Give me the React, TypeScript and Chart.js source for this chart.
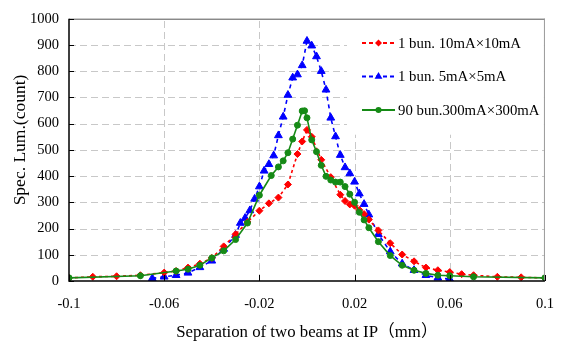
import React, { useEffect, useRef } from 'react';
import { Chart, registerables } from 'chart.js';

Chart.register(...registerables);

// ---- data ----
const redX = [-0.1, -0.09, -0.08, -0.07, -0.06, -0.055, -0.05, -0.045, -0.04, -0.035, -0.03, -0.025, -0.02, -0.016, -0.012, -0.008, -0.004, -0.002, 0, 0.002, 0.006, 0.01, 0.014, 0.016, 0.018, 0.02, 0.022, 0.024, 0.026, 0.03, 0.035, 0.04, 0.045, 0.05, 0.055, 0.06, 0.065, 0.07, 0.08, 0.09, 0.1];
const redY = [12, 16, 18, 22, 32, 38, 51, 66, 88, 132, 178, 225, 268, 296, 318, 368, 484, 532, 576, 550, 462, 396, 329, 305, 292, 287, 271, 255, 234, 193, 144, 101, 75, 51, 41, 34, 26, 22, 16, 14, 12];

const blueX = [-0.065, -0.06, -0.055, -0.05, -0.045, -0.04, -0.035, -0.03, -0.028, -0.026, -0.024, -0.022, -0.02, -0.018, -0.016, -0.014, -0.012, -0.01, -0.008, -0.006, -0.004, -0.002, 0, 0.002, 0.004, 0.006, 0.008, 0.01, 0.012, 0.014, 0.016, 0.018, 0.02, 0.022, 0.024, 0.026, 0.03, 0.035, 0.04, 0.045, 0.05, 0.055, 0.06];
const blueY = [10, 16, 22, 31, 52, 77, 122, 175, 221, 240, 269, 313, 360, 420, 445, 478, 555, 626, 709, 775, 787, 822, 915, 897, 856, 800, 729, 622, 551, 480, 433, 410, 378, 333, 293, 253, 178, 112, 66, 41, 22, 12, 7];

const greenX = [-0.1, -0.07, -0.055, -0.05, -0.045, -0.04, -0.035, -0.03, -0.025, -0.02, -0.015, -0.012, -0.01, -0.008, -0.006, -0.004, -0.002, -0.001, 0, 0.002, 0.004, 0.006, 0.008, 0.01, 0.012, 0.014, 0.016, 0.018, 0.02, 0.022, 0.024, 0.026, 0.03, 0.035, 0.04, 0.045, 0.05, 0.055, 0.06, 0.07, 0.1];
const greenY = [12, 20, 38, 45, 60, 88, 115, 158, 221, 327, 402, 435, 458, 489, 541, 594, 648, 649, 622, 538, 493, 441, 399, 385, 377, 377, 360, 331, 300, 262, 233, 203, 150, 97, 60, 41, 29, 22, 20, 16, 12];

const xTickValues = [-0.1, -0.06, -0.02, 0.02, 0.06, 0.1];
const xMin = -0.1;
const xMax = 0.1;
const yMin = 0;
const yMax = 1000;
const yStep = 100;

const seriesLabels = ['1 bun. 10mA×10mA', '1 bun. 5mA×5mA', '90 bun.300mA×300mA'];
const xTitle = 'Separation of two beams at IP（mm）';
const yTitle = 'Spec. Lum.(count)';

// ---- styles ----
const RED = '#ff0000';
const BLUE = '#0000ff';
const GREEN = '#168a16';
const SERIF = '"Liberation Serif", "Times New Roman", "Noto Sans CJK SC", serif';

const toPoints = (xs: number[], ys: number[]) => xs.map((x, i) => ({ x, y: ys[i] }));

const legendItems = [
  { label: seriesLabels[0], color: RED, dash: [4, 3], marker: 'diamond' },
  { label: seriesLabels[1], color: BLUE, dash: [4, 3], marker: 'triangle' },
  { label: seriesLabels[2], color: GREEN, dash: [], marker: 'circle' },
];

function drawMarker(ctx: CanvasRenderingContext2D, kind: string, x: number, y: number, color: string) {
  ctx.save();
  ctx.setLineDash([]);
  ctx.fillStyle = color;
  ctx.beginPath();
  if (kind === 'diamond') {
    const r = 3.5;
    ctx.moveTo(x, y - r);
    ctx.lineTo(x + r, y);
    ctx.lineTo(x, y + r);
    ctx.lineTo(x - r, y);
    ctx.closePath();
  } else if (kind === 'triangle') {
    const r = 4.5;
    ctx.moveTo(x, y - r);
    ctx.lineTo(x + r * 0.87, y + r * 0.5);
    ctx.lineTo(x - r * 0.87, y + r * 0.5);
    ctx.closePath();
  } else {
    ctx.arc(x, y, 3, 0, Math.PI * 2);
  }
  ctx.fill();
  ctx.restore();
}

const decorPlugin = {
  id: 'decor',
  beforeDatasetsDraw(chart: any) {
    const { ctx, chartArea } = chart;
    const { left, right, top, bottom } = chartArea;
    const xs = chart.scales.x;
    const ys = chart.scales.y;
    ctx.save();
    ctx.strokeStyle = '#c8c8c8';
    ctx.lineWidth = 1;
    ctx.setLineDash([7, 4]);
    ctx.beginPath();
    for (let v = yMin + yStep; v < yMax; v += yStep) {
      const py = Math.round(ys.getPixelForValue(v)) + 0.5;
      ctx.moveTo(left, py);
      ctx.lineTo(right, py);
    }
    xTickValues.slice(1, -1).forEach((v) => {
      const px = Math.round(xs.getPixelForValue(v)) + 0.5;
      ctx.moveTo(px, bottom);
      ctx.lineTo(px, top);
    });
    ctx.stroke();
    ctx.restore();
  },
  afterDraw(chart: any) {
    const { ctx, chartArea } = chart;
    const { left, right, top, bottom } = chartArea;
    const xs = chart.scales.x;
    const ys = chart.scales.y;
    ctx.save();

    // legend box (hides grid lines behind it)
    ctx.fillStyle = '#ffffff';
    ctx.fillRect(347, top + 1, right - 347 - 1, 115);
    legendItems.forEach((it, i) => {
      const y = 43 + i * 33.5;
      ctx.save();
      ctx.strokeStyle = it.color;
      ctx.lineWidth = 2;
      ctx.setLineDash(it.dash);
      ctx.beginPath();
      ctx.moveTo(362, y);
      ctx.lineTo(395, y);
      ctx.stroke();
      ctx.restore();
      drawMarker(ctx, it.marker, 378.5, y, it.color);
      ctx.fillStyle = '#000';
      ctx.font = '14.8px ' + SERIF;
      ctx.textAlign = 'left';
      ctx.textBaseline = 'middle';
      ctx.fillText(it.label, 398, y + 1);
    });

    // frame
    ctx.setLineDash([]);
    ctx.lineWidth = 1;
    ctx.strokeStyle = '#555';
    ctx.beginPath();
    ctx.moveTo(left, top + 0.5);
    ctx.lineTo(right, top + 0.5);
    ctx.stroke();
    ctx.strokeStyle = '#999';
    ctx.beginPath();
    ctx.moveTo(right - 0.5, top);
    ctx.lineTo(right - 0.5, bottom);
    ctx.stroke();
    ctx.strokeStyle = '#000';
    ctx.lineWidth = 1.5;
    ctx.beginPath();
    ctx.moveTo(left, top);
    ctx.lineTo(left, bottom);
    ctx.lineTo(right, bottom);
    ctx.stroke();

    // inward tick marks
    ctx.lineWidth = 1;
    ctx.beginPath();
    for (let v = yMin; v <= yMax; v += yStep) {
      const py = Math.round(ys.getPixelForValue(v)) + 0.5;
      ctx.moveTo(left, py);
      ctx.lineTo(left + 5, py);
    }
    xTickValues.forEach((v) => {
      const px = Math.round(xs.getPixelForValue(v)) + 0.5;
      ctx.moveTo(px, bottom);
      ctx.lineTo(px, bottom - 6);
    });
    ctx.stroke();

    // y title
    ctx.fillStyle = '#000';
    ctx.font = '17.5px ' + SERIF;
    ctx.textAlign = 'center';
    ctx.textBaseline = 'middle';
    ctx.translate(20, 140);
    ctx.rotate(-Math.PI / 2);
    ctx.fillText(yTitle, 0, 0);
    ctx.restore();
  },
};

export default function App() {
  const canvasRef = useRef<HTMLCanvasElement | null>(null);

  useEffect(() => {
    document.body.style.margin = '0';
    const canvas = canvasRef.current;
    if (!canvas) return;
    const chart = new Chart(canvas, {
      type: 'scatter',
      data: {
        datasets: [
          {
            label: seriesLabels[2],
            data: toPoints(greenX, greenY),
            showLine: true,
            borderColor: GREEN,
            backgroundColor: GREEN,
            borderWidth: 1.6,
            pointStyle: 'circle',
            pointRadius: 3,
            pointBorderWidth: 1,
          },
          {
            label: seriesLabels[0],
            data: toPoints(redX, redY),
            showLine: true,
            borderColor: RED,
            backgroundColor: RED,
            borderWidth: 1.6,
            borderDash: [3, 3],
            pointStyle: 'rectRot',
            pointRadius: 3.5,
            pointBorderWidth: 1,
          },
          {
            label: seriesLabels[1],
            data: toPoints(blueX, blueY),
            showLine: true,
            borderColor: BLUE,
            backgroundColor: BLUE,
            borderWidth: 1.6,
            borderDash: [4, 4],
            pointStyle: 'triangle',
            pointRadius: 4.5,
            pointBorderWidth: 1,
          },
        ],
      },
      options: {
        animation: false,
        responsive: true,
        maintainAspectRatio: false,
        layout: { padding: { left: 0, right: 15, top: 13, bottom: 0 } },
        plugins: {
          legend: { display: false },
          tooltip: { enabled: false },
        },
        scales: {
          x: {
            type: 'linear',
            min: xMin,
            max: xMax,
            afterBuildTicks: (scale: any) => {
              scale.ticks = xTickValues.map((v) => ({ value: v }));
            },
            afterFit: (scale: any) => {
              scale.height = 66;
            },
            grid: { display: false, drawTicks: false },
            border: { display: false },
            ticks: {
              padding: 14,
              color: '#000',
              font: { family: SERIF, size: 14.5 },
              maxRotation: 0,
              autoSkip: false,
              callback: (v: any) => String(Number(Number(v).toFixed(2))),
            },
            title: {
              display: true,
              text: xTitle,
              color: '#000',
              font: { family: SERIF, size: 16.8 },
              padding: { top: 0, bottom: 4 },
            },
          },
          y: {
            type: 'linear',
            min: yMin,
            max: yMax,
            afterFit: (scale: any) => {
              scale.width = 69;
            },
            grid: { display: false, drawTicks: false },
            border: { display: false },
            ticks: {
              stepSize: yStep,
              padding: 10,
              color: '#000',
              font: { family: SERIF, size: 14.5 },
              callback: (v: any) => String(v),
            },
          },
        },
      },
      plugins: [decorPlugin],
    } as any);
    return () => chart.destroy();
  }, []);

  return (
    <div style={{ position: 'relative', width: 568, height: 347, background: '#fff' }}>
      <canvas ref={canvasRef} />
    </div>
  );
}
